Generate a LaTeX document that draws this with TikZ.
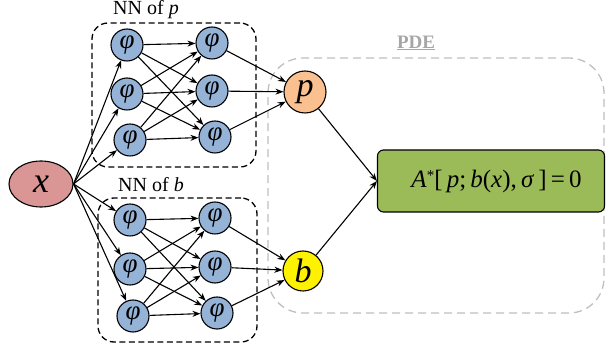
\documentclass[tikz,border=0pt]{standalone}
\usepackage{fontspec}
\setmainfont{Liberation Serif}
\usetikzlibrary{arrows.meta,shapes.geometric}
\definecolor{nnblue}{HTML}{95B3D7}
\definecolor{xred}{HTML}{D99694}
\definecolor{porange}{HTML}{FAC090}
\definecolor{pdegreen}{HTML}{9BBB59}
\definecolor{pdegray}{HTML}{BFBFBF}
\definecolor{labgray}{HTML}{A6A6A6}
\begin{document}
\begin{tikzpicture}[x=1pt,y=-1pt,
  neuron/.style={circle,draw,line width=1.1pt,fill=nnblue,minimum size=32pt,inner sep=0pt,
    font=\fontsize{27}{27}\selectfont\itshape},
  arr/.style={-{Stealth[length=8pt,width=6pt]},line width=1.1pt},
  nnbox/.style={draw,dashed,dash pattern=on 6pt off 3.5pt,line width=1.3pt,rounded corners=16pt,inner sep=0pt},
  nnlabel/.style={font=\fontsize{20}{20}\selectfont},
  outnode/.style={circle,draw,line width=1.1pt,minimum size=42pt,inner sep=0pt,
    font=\fontsize{34}{34}\selectfont\itshape}]
\useasboundingbox (0,0) rectangle (606,347);
% boxes
\node[draw=pdegray,dash pattern=on 8pt off 5pt,line width=1.3pt,rounded corners=35pt,
  minimum width=336pt,minimum height=255pt,inner sep=0pt] (pdebox) at (436,185.5) {};
\node[text=labgray,font=\fontsize{19}{19}\selectfont\bfseries] (pdelab) at (416,43) {\underline{PDE}};
\node[nnbox,minimum width=164pt,minimum height=144pt] (boxp) at (174,95) {};
\node[nnbox,minimum width=159pt,minimum height=144pt] (boxb) at (177.5,270) {};
\node[nnlabel] (labp) at (146,10) {NN of \textit{p}};
\node[nnlabel] (labb) at (151,185) {NN of \textit{b}};
% input
\node[ellipse,draw,line width=1.1pt,fill=xred,minimum width=64pt,minimum height=46pt,inner sep=0pt,
  font=\fontsize{36}{36}\selectfont\itshape] (x) at (41,184) {x};
% top net
\node[neuron] (a1) at (127,45) {φ};
\node[neuron] (a2) at (127,94) {φ};
\node[neuron] (a3) at (130,140) {φ};
\node[neuron] (b1) at (212,43) {φ};
\node[neuron] (b2) at (212,91) {φ};
\node[neuron] (b3) at (215,137) {φ};
% bottom net
\node[neuron] (c1) at (130,220) {φ};
\node[neuron] (c2) at (130,269) {φ};
\node[neuron] (c3) at (133,316) {φ};
\node[neuron] (d1) at (215,218) {φ};
\node[neuron] (d2) at (215,267) {φ};
\node[neuron] (d3) at (217,313) {φ};
% outputs
\node[outnode,fill=porange] (p) at (305,92) {p};
\node[outnode,fill=yellow,minimum size=40pt] (b) at (303,271) {b};
\node[draw,line width=1.1pt,fill=pdegreen,rounded corners=6pt,minimum width=227pt,minimum height=62pt,
  inner sep=0pt,font=\fontsize{25}{25}\selectfont] (eq) at (491,181)
  {\hspace*{11pt}\textit{A}\raisebox{7pt}{\fontsize{15}{15}\selectfont *}[\,\textit{p};\,\textit{b}(\textit{x}),\,\textit{σ}\,]\,=\,0};
% connectors
\foreach \n in {a1,a2,a3,c1,c2,c3} \draw[arr] (x.east) -- (\n);
\foreach \i in {1,2,3} {
  \foreach \j in {1,2,3} {
    \draw[arr] (a\i) -- (b\j);
    \draw[arr] (c\i) -- (d\j);
  }
  \draw[arr] (b\i) -- (p);
  \draw[arr] (d\i) -- (b);
}
\draw[arr] (p) -- (eq.west);
\draw[arr] (b) -- (eq.west);
\end{tikzpicture}
\end{document}
